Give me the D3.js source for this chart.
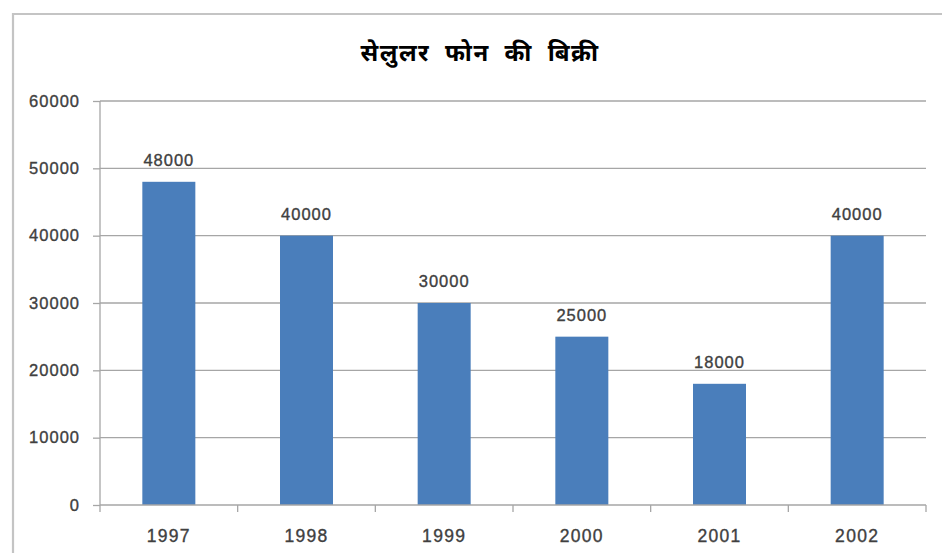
<!DOCTYPE html>
<html>
<head>
<meta charset="utf-8">
<script src="https://cdn.jsdelivr.net/npm/d3@7"></script>
<style>
  html, body { margin: 0; padding: 0; background: #fff; }
  svg { display: block; }
</style>
</head>
<body>
<svg id="chart" width="942" height="553"></svg>
<script>
const title = "सेलुलर फोन की बिक्री";
const categories = ["1997", "1998", "1999", "2000", "2001", "2002"];
const values = [48000, 40000, 30000, 25000, 18000, 40000];
const yTicks = [0, 10000, 20000, 30000, 40000, 50000, 60000];

(function () {
const svg = d3.select("#chart");
const W = 942, H = 553;
const pLeft = 100, pRight = 926, pTop = 101, pBottom = 505;

// outer frame
svg.append("path")
  .attr("d", `M13,${H} L13,14 L${W},14`)
  .attr("fill", "none")
  .attr("stroke", "#c4c4c4")
  .attr("stroke-width", 2.2);

const x = d3.scaleBand().domain(categories).range([pLeft, pRight]).paddingInner(0.615).paddingOuter(0.3075);
const xb = d3.scaleBand().domain(categories).range([pLeft, pRight]);
const y = d3.scaleLinear().domain([0, 60000]).range([pBottom, pTop]);

// gridlines
svg.append("g").selectAll("line")
  .data(yTicks.filter(d => d > 0))
  .join("line")
  .attr("x1", pLeft).attr("x2", pRight)
  .attr("y1", d => y(d)).attr("y2", d => y(d))
  .attr("stroke", "#a6a6a6").attr("stroke-width", 1.3);

// bars
svg.append("g").selectAll("rect")
  .data(values)
  .join("rect")
  .attr("x", (d, i) => x(categories[i]))
  .attr("width", x.bandwidth())
  .attr("y", d => y(d))
  .attr("height", d => pBottom - y(d))
  .attr("fill", "#4a7ebb");

const labelStyle = sel => sel
  .attr("fill", "#404040")
  .attr("stroke", "#404040")
  .attr("stroke-width", 0.35)
  .style("font-family", "'Liberation Sans', Arial, sans-serif");

// y axis
const yAxis = d3.axisLeft(y).tickValues(yTicks).tickSize(7).tickPadding(13).tickFormat(d3.format("d"));
const gy = svg.append("g").attr("transform", `translate(${pLeft},0)`).call(yAxis);
gy.select(".domain").attr("stroke", "#a6a6a6").attr("stroke-width", 1.3).attr("d", `M0,${pTop}V${pBottom}`);
gy.selectAll(".tick line").attr("stroke", "#a6a6a6").attr("stroke-width", 1.3);
gy.selectAll(".tick text")
  .call(labelStyle)
  .style("font-size", "16.5px")
  .style("letter-spacing", "1px");

// x axis with ticks at band boundaries
const gx = svg.append("g").attr("transform", `translate(0,${pBottom})`);
gx.append("line").attr("x1", pLeft).attr("x2", pRight).attr("y1", 0).attr("y2", 0)
  .attr("stroke", "#a6a6a6").attr("stroke-width", 1.3);
const boundaries = categories.map(c => xb(c)).concat([pRight]);
gx.selectAll("line.tk").data(boundaries).join("line").attr("class", "tk")
  .attr("x1", d => d).attr("x2", d => d).attr("y1", 0).attr("y2", 7)
  .attr("stroke", "#a6a6a6").attr("stroke-width", 1.3);
gx.selectAll("text").data(categories).join("text")
  .attr("x", d => xb(d) + xb.bandwidth() / 2)
  .attr("y", 37)
  .attr("text-anchor", "middle")
  .call(labelStyle)
  .style("font-size", "17.5px")
  .style("letter-spacing", "1.3px")
  .text(d => d);

// data labels
svg.append("g").selectAll("text")
  .data(values)
  .join("text")
  .attr("x", (d, i) => xb(categories[i]) + xb.bandwidth() / 2)
  .attr("y", d => y(d) - 16)
  .attr("text-anchor", "middle")
  .call(labelStyle)
  .style("font-size", "16.5px")
  .style("letter-spacing", "1px")
  .text(d => d);

// title
svg.append("text")
  .attr("x", 480)
  .attr("y", 61)
  .attr("text-anchor", "middle")
  .attr("fill", "#000")
  .style("font-family", "'Noto Sans Devanagari', 'Noto Sans', 'DejaVu Sans', sans-serif")
  .style("font-size", "24px")
  .style("font-weight", "bold")
  .style("letter-spacing", "1.5px")
  .style("word-spacing", "7px")
  .text(title);
})();
</script>
</body>
</html>
